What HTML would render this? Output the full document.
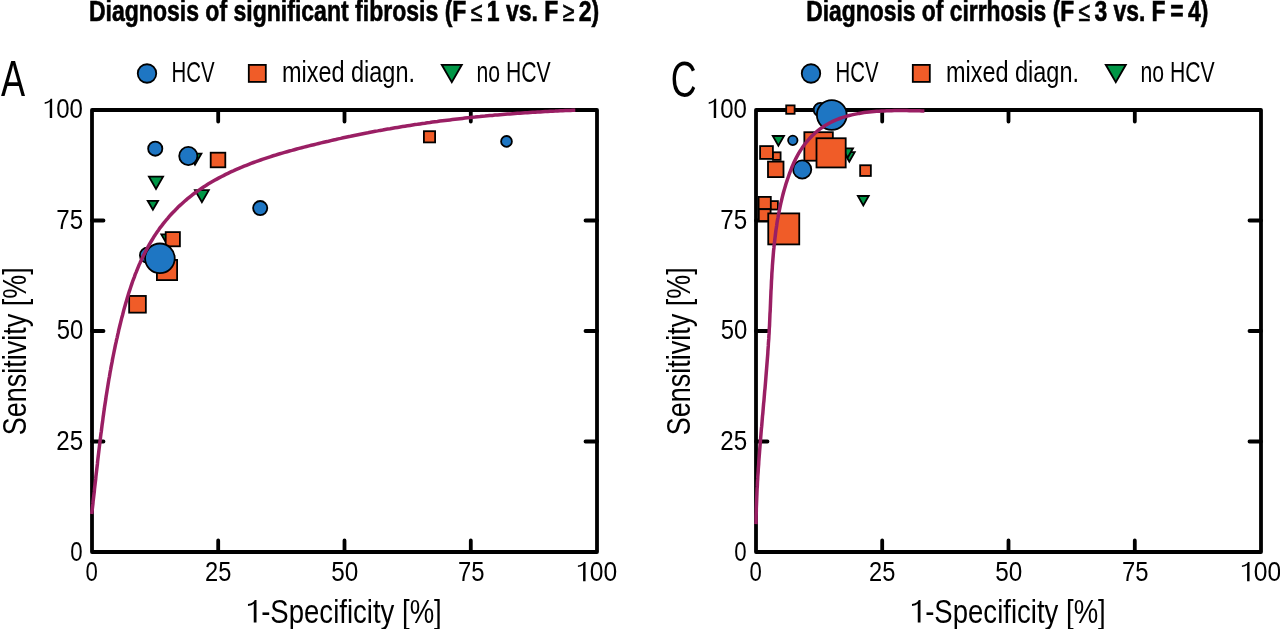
<!DOCTYPE html>
<html><head><meta charset="utf-8"><style>html,body{margin:0;padding:0;background:#fff;overflow:hidden}svg{display:block;will-change:transform}</style></head>
<body><svg width="1280" height="629" viewBox="0 0 1280 629" font-family='"Liberation Sans", sans-serif' fill="#000">
<text transform="translate(88.92 20.90) scale(0.7917 1)" font-weight="bold" font-size="29.1" stroke="#000" stroke-width="0.6">Diagnosis of significant fibrosis (F<tspan font-weight="normal" font-size="27"> ≤ </tspan>1 vs. F<tspan font-weight="normal" font-size="27"> ≥ </tspan>2)</text>
<text transform="translate(806.23 20.90) scale(0.7861 1)" font-weight="bold" font-size="29.1" stroke="#000" stroke-width="0.6">Diagnosis of cirrhosis (F<tspan font-weight="normal" font-size="27"> ≤ </tspan>3 vs. F = 4)</text>
<text transform="translate(1.00 96.10) scale(0.7273 1)" font-weight="normal" font-size="49.7">A</text>
<text transform="translate(670.74 96.70) scale(0.7194 1)" font-weight="normal" font-size="49.7">C</text>
<text transform="translate(171.60 82.00) scale(0.6983 1)" font-weight="normal" font-size="29.2">HCV</text>
<text transform="translate(281.89 82.00) scale(0.8043 1)" font-weight="normal" font-size="29.2">mixed diagn.</text>
<text transform="translate(476.45 82.00) scale(0.7260 1)" font-weight="normal" font-size="29.2">no HCV</text>
<g transform="translate(42.90 118.10) scale(0.8511 1)"><text font-weight="normal" font-size="28.2"> 00</text><path transform="scale(0.01377 -0.01377)" d="M585 0L790 0L790 1409L660 1409Q590 1230 156 1150L156 1030Q470 1060 585 1180Z"/></g>
<text transform="translate(56.34 228.70) scale(0.8569 1)" font-weight="normal" font-size="28.2">75</text>
<text transform="translate(56.65 339.40) scale(0.8466 1)" font-weight="normal" font-size="28.2">50</text>
<text transform="translate(56.34 450.00) scale(0.8569 1)" font-weight="normal" font-size="28.2">25</text>
<text transform="translate(70.21 560.50) scale(0.7893 1)" font-weight="normal" font-size="28.2">0</text>
<text transform="translate(85.41 581.30) scale(0.7857 1)" font-weight="normal" font-size="28.2">0</text>
<text transform="translate(205.01 581.30) scale(0.8379 1)" font-weight="normal" font-size="28.2">25</text>
<text transform="translate(331.14 581.30) scale(0.8621 1)" font-weight="normal" font-size="28.2">50</text>
<text transform="translate(457.91 581.30) scale(0.8448 1)" font-weight="normal" font-size="28.2">75</text>
<g transform="translate(576.05 581.30) scale(0.8727 1)"><text font-weight="normal" font-size="28.2"> 00</text><path transform="scale(0.01377 -0.01377)" d="M585 0L790 0L790 1409L660 1409Q590 1230 156 1150L156 1030Q470 1060 585 1180Z"/></g>
<g transform="translate(245.88 622.50) scale(0.8412 1)"><text font-weight="normal" font-size="32.75"> -Specificity [%]</text><path transform="scale(0.01599 -0.01599)" d="M585 0L790 0L790 1409L660 1409Q590 1230 156 1150L156 1030Q470 1060 585 1180Z"/></g>
<text transform="translate(26.20 435.35) rotate(-90) scale(0.8255 1)" font-weight="normal" font-size="32.75">Sensitivity [%]</text>
<text transform="translate(835.60 82.00) scale(0.6983 1)" font-weight="normal" font-size="29.2">HCV</text>
<text transform="translate(945.89 82.00) scale(0.8043 1)" font-weight="normal" font-size="29.2">mixed diagn.</text>
<text transform="translate(1140.45 82.00) scale(0.7260 1)" font-weight="normal" font-size="29.2">no HCV</text>
<g transform="translate(706.90 118.10) scale(0.8511 1)"><text font-weight="normal" font-size="28.2"> 00</text><path transform="scale(0.01377 -0.01377)" d="M585 0L790 0L790 1409L660 1409Q590 1230 156 1150L156 1030Q470 1060 585 1180Z"/></g>
<text transform="translate(720.34 228.70) scale(0.8569 1)" font-weight="normal" font-size="28.2">75</text>
<text transform="translate(720.65 339.40) scale(0.8466 1)" font-weight="normal" font-size="28.2">50</text>
<text transform="translate(720.34 450.00) scale(0.8569 1)" font-weight="normal" font-size="28.2">25</text>
<text transform="translate(734.21 560.50) scale(0.7893 1)" font-weight="normal" font-size="28.2">0</text>
<text transform="translate(749.41 581.30) scale(0.7857 1)" font-weight="normal" font-size="28.2">0</text>
<text transform="translate(869.01 581.30) scale(0.8379 1)" font-weight="normal" font-size="28.2">25</text>
<text transform="translate(995.14 581.30) scale(0.8621 1)" font-weight="normal" font-size="28.2">50</text>
<text transform="translate(1121.91 581.30) scale(0.8448 1)" font-weight="normal" font-size="28.2">75</text>
<g transform="translate(1240.05 581.30) scale(0.8727 1)"><text font-weight="normal" font-size="28.2"> 00</text><path transform="scale(0.01377 -0.01377)" d="M585 0L790 0L790 1409L660 1409Q590 1230 156 1150L156 1030Q470 1060 585 1180Z"/></g>
<g transform="translate(909.88 622.50) scale(0.8412 1)"><text font-weight="normal" font-size="32.75"> -Specificity [%]</text><path transform="scale(0.01599 -0.01599)" d="M585 0L790 0L790 1409L660 1409Q590 1230 156 1150L156 1030Q470 1060 585 1180Z"/></g>
<text transform="translate(690.20 435.35) rotate(-90) scale(0.8255 1)" font-weight="normal" font-size="32.75">Sensitivity [%]</text>
<rect x="92" y="110" width="505" height="442" fill="none" stroke="#000" stroke-width="3.8" stroke-linejoin="round"/><path d="M218.2 552 V540.5 M218.2 110 V121.5 M92 441.5 H103.5 M597 441.5 H585.5 M344.5 552 V540.5 M344.5 110 V121.5 M92 331.0 H103.5 M597 331.0 H585.5 M470.8 552 V540.5 M470.8 110 V121.5 M92 220.5 H103.5 M597 220.5 H585.5 " stroke="#000" stroke-width="3.8" stroke-linecap="round" fill="none"/>
<rect x="756" y="110" width="505" height="442" fill="none" stroke="#000" stroke-width="3.8" stroke-linejoin="round"/><path d="M882.2 552 V540.5 M882.2 110 V121.5 M756 441.5 H767.5 M1261 441.5 H1249.5 M1008.5 552 V540.5 M1008.5 110 V121.5 M756 331.0 H767.5 M1261 331.0 H1249.5 M1134.8 552 V540.5 M1134.8 110 V121.5 M756 220.5 H767.5 M1261 220.5 H1249.5 " stroke="#000" stroke-width="3.8" stroke-linecap="round" fill="none"/>
<g stroke="#000" stroke-width="1.8" stroke-linejoin="miter"><circle cx="147" cy="73.5" r="9.25" fill="#1e76c3"/><rect x="248.80" y="64.90" width="17.00" height="17.00" fill="#f05c28"/><path d="M441.78 64.80 H461.82 L451.80 82.15Z" fill="#009646"/><circle cx="811" cy="73.5" r="9.25" fill="#1e76c3"/><rect x="912.80" y="64.90" width="17.00" height="17.00" fill="#f05c28"/><path d="M1105.78 64.80 H1125.82 L1115.80 82.15Z" fill="#009646"/></g>
<g stroke="#000" stroke-width="1.8" stroke-linejoin="miter"><path d="M188.58 153.70 H201.42 L195.00 164.82Z" fill="#009646"/><path d="M148.93 176.60 H163.07 L156.00 188.85Z" fill="#009646"/><path d="M147.73 200.80 H158.07 L152.90 209.75Z" fill="#009646"/><path d="M194.98 190.20 H208.82 L201.90 202.19Z" fill="#009646"/><path d="M161.33 234.40 H174.67 L168.00 245.95Z" fill="#009646"/><rect x="210.70" y="152.70" width="14.60" height="14.60" fill="#f05c28"/><rect x="423.90" y="131.20" width="11.20" height="11.20" fill="#f05c28"/><rect x="165.70" y="232.10" width="14.20" height="14.20" fill="#f05c28"/><rect x="156.90" y="259.90" width="20.20" height="20.20" fill="#f05c28"/><rect x="129.15" y="295.95" width="16.70" height="16.70" fill="#f05c28"/><circle cx="155.25" cy="148.65" r="7.10" fill="#1e76c3"/><circle cx="188.3" cy="156" r="9.10" fill="#1e76c3"/><circle cx="260.2" cy="208.1" r="7.10" fill="#1e76c3"/><circle cx="506.5" cy="141.4" r="5.40" fill="#1e76c3"/><circle cx="147.5" cy="255.3" r="7.60" fill="#1e76c3"/><circle cx="159.9" cy="258.35" r="14.85" fill="#1e76c3"/></g>
<g stroke="#000" stroke-width="1.8" stroke-linejoin="miter"><path d="M772.78 136.00 H784.02 L778.40 145.73Z" fill="#009646"/><path d="M843.88 152.20 H854.72 L849.30 161.59Z" fill="#009646"/><path d="M842.18 148.30 H853.02 L847.60 157.69Z" fill="#009646"/><path d="M857.88 196.00 H868.72 L863.30 205.39Z" fill="#009646"/><rect x="786.20" y="105.40" width="8.40" height="8.40" fill="#f05c28"/><rect x="760.10" y="146.10" width="12.80" height="12.80" fill="#f05c28"/><rect x="773.00" y="152.30" width="7.60" height="7.60" fill="#f05c28"/><rect x="768.00" y="161.60" width="15.50" height="15.50" fill="#f05c28"/><rect x="804.35" y="132.20" width="28.50" height="28.50" fill="#f05c28"/><rect x="816.50" y="138.25" width="29.20" height="29.20" fill="#f05c28"/><rect x="860.15" y="165.25" width="10.70" height="10.70" fill="#f05c28"/><rect x="769.50" y="201.10" width="8.40" height="8.40" fill="#f05c28"/><rect x="758.60" y="196.90" width="12.20" height="12.20" fill="#f05c28"/><rect x="758.80" y="209.20" width="11.80" height="11.80" fill="#f05c28"/><rect x="768.25" y="213.40" width="31.00" height="31.00" fill="#f05c28"/><circle cx="820.5" cy="109.8" r="6.85" fill="#1e76c3"/><circle cx="831.8" cy="115" r="14.90" fill="#1e76c3"/><circle cx="792.8" cy="140.35" r="4.70" fill="#1e76c3"/><circle cx="802.2" cy="169.5" r="9.10" fill="#1e76c3"/></g>
<path d="M91.7 514.0 L92.0 511.5 L92.3 509.0 L92.6 506.5 L92.9 504.0 L93.1 501.5 L93.4 499.0 L93.7 496.5 L94.0 494.0 L94.3 491.5 L94.5 489.0 L94.8 486.5 L95.1 484.0 L95.4 481.5 L95.7 479.0 L95.9 476.5 L96.2 474.0 L96.5 471.5 L96.8 469.0 L97.1 466.5 L97.4 464.0 L97.6 461.5 L97.9 459.0 L98.2 456.5 L98.5 454.0 L98.8 451.5 L99.1 449.0 L99.4 446.5 L99.7 444.0 L100.0 441.5 L100.3 439.0 L100.6 436.5 L100.9 434.0 L101.3 431.5 L101.6 429.0 L101.9 426.5 L102.2 424.1 L102.6 421.6 L102.9 419.1 L103.2 416.6 L103.6 414.1 L103.9 411.6 L104.3 409.1 L104.6 406.6 L105.0 404.1 L105.4 401.6 L105.8 399.1 L106.1 396.6 L106.5 394.2 L106.9 391.7 L107.3 389.2 L107.7 386.7 L108.1 384.2 L108.5 381.7 L108.9 379.2 L109.4 376.8 L109.8 374.3 L110.2 371.8 L110.7 369.3 L111.1 366.9 L111.6 364.4 L112.1 361.9 L112.5 359.4 L113.0 357.0 L113.5 354.5 L114.0 352.0 L114.5 349.6 L115.0 347.1 L115.5 344.6 L116.1 342.2 L116.6 339.7 L117.2 337.3 L117.7 334.8 L118.3 332.4 L118.8 329.9 L119.4 327.5 L120.0 325.0 L120.6 322.6 L121.2 320.1 L121.8 317.7 L122.5 315.2 L123.1 312.8 L123.7 310.4 L124.4 307.9 L125.1 305.5 L125.8 303.1 L126.5 300.7 L127.2 298.3 L127.9 295.9 L128.6 293.5 L129.4 291.1 L130.2 288.7 L131.0 286.3 L131.8 283.9 L132.6 281.5 L133.5 279.1 L134.4 276.8 L135.2 274.4 L136.2 272.1 L137.1 269.8 L138.1 267.4 L139.0 265.1 L140.1 262.8 L141.1 260.5 L142.2 258.2 L143.2 256.0 L144.4 253.7 L145.5 251.5 L146.7 249.2 L147.9 247.0 L149.1 244.8 L150.4 242.6 L151.7 240.5 L153.0 238.3 L154.3 236.2 L155.7 234.1 L157.1 232.0 L158.6 230.0 L160.0 227.9 L161.6 225.9 L163.1 223.9 L164.7 222.0 L166.2 220.0 L167.9 218.1 L169.5 216.2 L171.2 214.3 L172.9 212.5 L174.7 210.7 L176.4 208.9 L178.2 207.1 L180.0 205.4 L181.9 203.7 L183.8 202.0 L185.7 200.3 L187.6 198.7 L189.6 197.1 L191.5 195.6 L193.5 194.0 L195.6 192.5 L197.6 191.1 L199.7 189.6 L201.7 188.2 L203.9 186.8 L206.0 185.5 L208.1 184.1 L210.3 182.8 L212.4 181.6 L214.6 180.3 L216.8 179.1 L219.0 177.9 L221.2 176.7 L223.5 175.6 L225.7 174.4 L228.0 173.3 L230.3 172.2 L232.6 171.2 L234.8 170.1 L237.1 169.1 L239.5 168.1 L241.8 167.2 L244.1 166.2 L246.4 165.3 L248.8 164.3 L251.1 163.4 L253.5 162.5 L255.9 161.7 L258.2 160.8 L260.6 160.0 L263.0 159.2 L265.4 158.4 L267.7 157.6 L270.1 156.8 L272.5 156.0 L274.9 155.3 L277.4 154.5 L279.8 153.8 L282.2 153.1 L284.6 152.4 L287.0 151.7 L289.4 151.0 L291.9 150.4 L294.3 149.7 L296.7 149.0 L299.1 148.4 L301.6 147.8 L304.0 147.1 L306.5 146.5 L308.9 145.9 L311.3 145.3 L313.8 144.7 L316.2 144.1 L318.7 143.5 L321.1 142.9 L323.6 142.3 L326.0 141.7 L328.5 141.2 L330.9 140.6 L333.4 140.0 L335.8 139.5 L338.3 138.9 L340.7 138.4 L343.2 137.8 L345.7 137.3 L348.1 136.8 L350.6 136.3 L353.1 135.7 L355.5 135.2 L358.0 134.7 L360.4 134.2 L362.9 133.7 L365.4 133.2 L367.9 132.8 L370.3 132.3 L372.8 131.8 L375.3 131.3 L377.7 130.9 L380.2 130.4 L382.7 130.0 L385.2 129.5 L387.7 129.1 L390.1 128.7 L392.6 128.2 L395.1 127.8 L397.6 127.4 L400.1 127.0 L402.5 126.6 L405.0 126.2 L407.5 125.8 L410.0 125.4 L412.5 125.0 L415.0 124.6 L417.5 124.3 L420.0 123.9 L422.4 123.5 L424.9 123.2 L427.4 122.8 L429.9 122.5 L432.4 122.1 L434.9 121.8 L437.4 121.5 L439.9 121.1 L442.4 120.8 L444.9 120.5 L447.4 120.2 L449.9 119.9 L452.4 119.6 L454.9 119.3 L457.4 119.0 L459.9 118.7 L462.4 118.4 L464.9 118.1 L467.4 117.8 L469.9 117.6 L472.4 117.3 L474.9 117.1 L477.4 116.8 L479.9 116.6 L482.4 116.3 L484.9 116.1 L487.4 115.8 L489.9 115.6 L492.4 115.4 L494.9 115.1 L497.5 114.9 L500.0 114.7 L502.5 114.5 L505.0 114.3 L507.5 114.1 L510.0 113.9 L512.5 113.7 L515.0 113.5 L517.5 113.3 L520.0 113.2 L522.5 113.0 L525.1 112.8 L527.6 112.7 L530.1 112.5 L532.6 112.3 L535.1 112.2 L537.6 112.0 L540.1 111.9 L542.6 111.7 L545.2 111.6 L547.7 111.5 L550.2 111.3 L552.7 111.2 L555.2 111.1 L557.7 110.9 L560.2 110.8 L562.8 110.7 L565.3 110.6 L567.8 110.5 L570.3 110.4 L572.8 110.3 L575.3 110.2" fill="none" stroke="#9a1f64" stroke-width="3.5"/>
<path d="M756.0 524.1 L756.1 521.6 L756.1 519.1 L756.1 516.6 L756.2 514.0 L756.3 511.5 L756.3 509.0 L756.4 506.5 L756.5 504.0 L756.6 501.5 L756.7 499.0 L756.8 496.4 L756.9 493.9 L757.0 491.4 L757.1 488.9 L757.3 486.4 L757.4 483.9 L757.5 481.4 L757.7 478.9 L757.8 476.3 L758.0 473.8 L758.2 471.3 L758.3 468.8 L758.5 466.3 L758.7 463.8 L758.8 461.3 L759.0 458.8 L759.2 456.3 L759.4 453.8 L759.6 451.2 L759.8 448.7 L760.0 446.2 L760.2 443.7 L760.4 441.2 L760.6 438.7 L760.8 436.2 L761.0 433.7 L761.2 431.2 L761.4 428.7 L761.7 426.2 L761.9 423.7 L762.1 421.2 L762.3 418.7 L762.5 416.1 L762.8 413.6 L763.0 411.1 L763.2 408.6 L763.4 406.1 L763.6 403.6 L763.9 401.1 L764.1 398.6 L764.3 396.1 L764.5 393.6 L764.7 391.1 L765.0 388.6 L765.2 386.1 L765.4 383.6 L765.6 381.1 L765.8 378.6 L766.0 376.0 L766.2 373.5 L766.4 371.0 L766.6 368.5 L766.8 366.0 L767.0 363.5 L767.2 361.0 L767.4 358.5 L767.6 356.0 L767.8 353.5 L767.9 351.0 L768.1 348.4 L768.3 345.9 L768.4 343.4 L768.6 340.9 L768.8 338.4 L768.9 335.9 L769.1 333.4 L769.2 330.9 L769.3 328.4 L769.5 325.8 L769.6 323.3 L769.7 320.8 L769.8 318.3 L769.9 315.8 L770.0 313.3 L770.2 310.8 L770.3 308.3 L770.4 305.7 L770.5 303.2 L770.6 300.7 L770.7 298.2 L770.8 295.7 L770.9 293.2 L771.0 290.7 L771.2 288.1 L771.3 285.6 L771.4 283.1 L771.5 280.6 L771.7 278.1 L771.8 275.6 L771.9 273.1 L772.1 270.6 L772.3 268.0 L772.4 265.5 L772.6 263.0 L772.8 260.5 L773.0 258.0 L773.2 255.5 L773.4 253.0 L773.6 250.5 L773.9 248.0 L774.1 245.5 L774.4 243.0 L774.7 240.5 L775.0 238.0 L775.3 235.5 L775.6 233.0 L775.9 230.5 L776.3 228.0 L776.7 225.5 L777.0 223.0 L777.4 220.5 L777.9 218.1 L778.3 215.6 L778.8 213.1 L779.3 210.6 L779.8 208.2 L780.3 205.7 L780.8 203.3 L781.4 200.8 L782.0 198.4 L782.6 195.9 L783.2 193.5 L783.9 191.1 L784.6 188.6 L785.3 186.2 L786.0 183.8 L786.8 181.4 L787.6 179.0 L788.4 176.7 L789.2 174.3 L790.1 171.9 L791.0 169.6 L791.9 167.2 L792.9 164.9 L793.9 162.6 L795.0 160.4 L796.1 158.1 L797.3 155.9 L798.5 153.7 L799.8 151.5 L801.2 149.4 L802.6 147.3 L804.0 145.3 L805.5 143.2 L807.1 141.3 L808.8 139.4 L810.5 137.5 L812.2 135.7 L814.1 134.0 L815.9 132.3 L817.9 130.7 L819.8 129.2 L821.9 127.7 L824.0 126.3 L826.1 124.9 L828.3 123.7 L830.5 122.5 L832.7 121.4 L835.0 120.3 L837.4 119.4 L839.7 118.5 L842.1 117.6 L844.5 116.9 L846.9 116.1 L849.3 115.5 L851.8 114.9 L854.2 114.4 L856.7 113.9 L859.2 113.4 L861.6 113.0 L864.1 112.6 L866.6 112.3 L869.1 112.0 L871.6 111.7 L874.1 111.5 L876.6 111.3 L879.1 111.2 L881.7 111.0 L884.2 110.9 L886.7 110.8 L889.2 110.7 L891.7 110.7 L894.2 110.6 L896.7 110.6 L899.3 110.6 L901.8 110.6 L904.3 110.6 L906.8 110.6 L909.3 110.7 L911.8 110.7 L914.4 110.8 L916.9 110.8 L919.4 110.8 L921.9 110.9 L924.4 110.9" fill="none" stroke="#9a1f64" stroke-width="3.5"/>
</svg></body></html>
